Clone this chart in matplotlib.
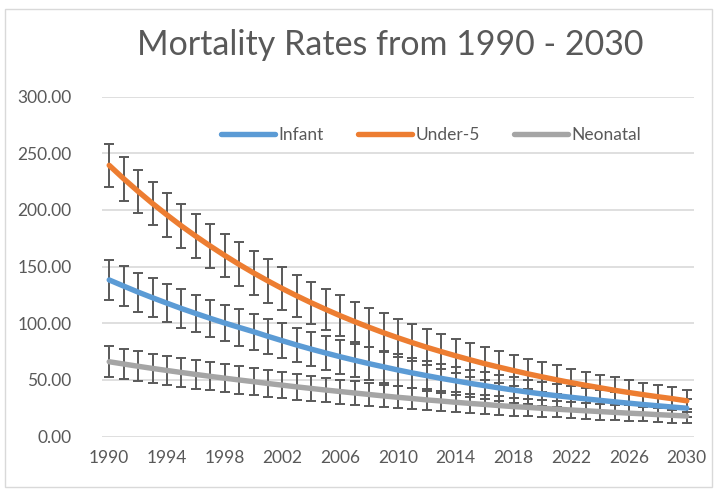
import matplotlib
matplotlib.use("Agg")
import matplotlib.pyplot as plt
from matplotlib.patches import Rectangle
import numpy as np

years = list(range(1990, 2031))
tick_years = [1990, 1994, 1998, 2002, 2006, 2010, 2014, 2018, 2022, 2026, 2030]

infant = [138.2, 132.8, 127.5, 122.5, 117.7, 113.0, 108.6, 104.3, 100.2, 96.3, 92.5,
          88.4, 84.5, 80.7, 77.1, 73.7, 70.4, 67.3, 64.3, 61.5, 58.7,
          56.1, 53.7, 51.3, 49.1, 46.9, 44.9, 42.9, 41.0, 39.2, 37.5,
          36.0, 34.6, 33.2, 31.9, 30.6, 29.4, 28.2, 27.1, 26.0, 25.0]
under5 = [239.4, 227.6, 216.4, 205.7, 195.6, 185.9, 176.8, 168.1, 159.8, 151.9, 144.4,
          137.3, 130.5, 124.1, 118.0, 112.2, 106.6, 101.4, 96.4, 91.6, 87.1,
          82.8, 78.7, 74.9, 71.2, 67.7, 64.3, 61.2, 58.2, 55.3, 52.6,
          50.0, 47.5, 45.2, 43.0, 40.8, 38.8, 36.9, 35.1, 33.4, 31.5]
neonatal = [66.0, 64.0, 62.0, 60.1, 58.3, 56.5, 54.8, 53.1, 51.5, 49.9, 48.4,
            46.8, 45.3, 43.8, 42.4, 41.0, 39.7, 38.4, 37.1, 35.8, 34.6,
            33.5, 32.3, 31.3, 30.2, 29.2, 28.3, 27.3, 26.4, 25.7, 24.9,
            24.1, 23.4, 22.7, 22.0, 21.3, 20.6, 20.0, 19.3, 18.7, 18.1]

infant_err = [17.4, 17.3, 17.2, 17.1, 17.0, 16.9, 16.7, 16.5, 16.3, 16.1, 15.9,
              15.7, 15.5, 15.3, 15.2, 15.0, 14.8, 14.6, 14.4, 14.2, 14.0,
              13.6, 13.2, 12.8, 12.4, 12.0, 11.7, 11.4, 11.1, 10.8, 10.5,
              10.2, 9.9, 9.6, 9.3, 9.0, 8.8, 8.6, 8.4, 8.2, 8.0]
under5_err = [19.2, 19.3, 19.3, 19.4, 19.4, 19.4, 19.4, 19.4, 19.4, 19.4, 19.4,
              19.2, 19.0, 18.8, 18.5, 18.2, 17.9, 17.6, 17.3, 17.0, 16.8,
              16.4, 16.0, 15.6, 15.2, 14.8, 14.5, 14.2, 13.8, 13.5, 13.2,
              12.8, 12.4, 12.0, 11.7, 11.3, 11.0, 10.6, 10.3, 10.0, 9.7]
neonatal_err = [13.5, 13.3, 13.2, 13.0, 12.8, 12.7, 12.5, 12.3, 12.2, 12.0, 11.8,
                11.6, 11.4, 11.2, 11.0, 10.8, 10.6, 10.4, 10.1, 9.9, 9.7,
                9.5, 9.2, 9.0, 8.7, 8.5, 8.3, 8.1, 7.9, 7.6, 7.4,
                7.3, 7.2, 7.1, 7.0, 6.9, 6.8, 6.7, 6.6, 6.5, 6.4]

series = [("Infant", infant, infant_err, "#5B9BD5"),
          ("Under-5", under5, under5_err, "#ED7D31"),
          ("Neonatal", neonatal, neonatal_err, "#A5A5A5")]

plt.rcParams['font.family'] = ['Lato', 'DejaVu Sans']
txt = "#595959"

fig = plt.figure(figsize=(7.18, 4.9), dpi=100)
fig.patches.append(Rectangle((5/718, 3/490), 707/718, 478/490, transform=fig.transFigure,
                             fill=False, edgecolor="#D9D9D9", linewidth=1))
ax = fig.add_axes([102/718, 1-436.5/490, 592/718, 339.8/490])

x = np.arange(len(years))
for name, vals, err, col in series:
    ax.errorbar(x, vals, yerr=err, fmt='none', ecolor="#595959", elinewidth=1.4,
                capsize=3.7, capthick=1.4, zorder=2)
for name, vals, err, col in series:
    ax.plot(x, vals, color=col, linewidth=3.9, label=name, zorder=3,
            solid_capstyle='round')

ax.set_xlim(-0.5, len(years) - 0.5)
ax.set_ylim(0, 300)
ax.set_yticks(np.arange(0, 301, 50))
ax.set_yticklabels([f"{v:.2f}" for v in np.arange(0, 301, 50)])
ax.set_xticks([years.index(y) for y in tick_years])
ax.set_xticklabels([str(y) for y in tick_years])
ax.tick_params(axis='both', length=0, labelsize=12.5, colors=txt)
ax.tick_params(axis='y', pad=22)
ax.tick_params(axis='x', pad=10)
ax.grid(axis='y', color="#D9D9D9", linewidth=1.2)
ax.set_axisbelow(True)
for s in ax.spines.values():
    s.set_visible(False)

fig.text(390/718, 1-45/490, "Mortality Rates from 1990 - 2030", ha='center', va='center',
         fontsize=24.5, color=txt)

leg = ax.legend(loc='center', bbox_to_anchor=(0.556, 0.887), ncol=3, frameon=False,
                fontsize=12.5, handlelength=3.1, handletextpad=0.2, columnspacing=2.0)
for t in leg.get_texts():
    t.set_color(txt)

fig.savefig("out.png", dpi=100)
